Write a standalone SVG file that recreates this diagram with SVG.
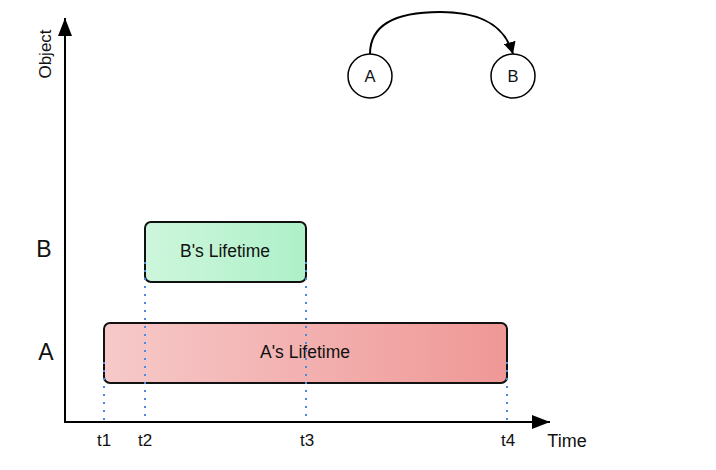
<svg xmlns="http://www.w3.org/2000/svg" width="716" height="470" viewBox="0 0 716 470">
<defs>
<linearGradient id="gA" x1="0" y1="0" x2="1" y2="0"><stop offset="0" stop-color="#f6c9c9"/><stop offset="1" stop-color="#ef9896"/></linearGradient>
<linearGradient id="gB" x1="0" y1="0" x2="1" y2="0"><stop offset="0" stop-color="#cdf6dc"/><stop offset="1" stop-color="#aef0c8"/></linearGradient>
<marker id="arr" viewBox="0 0 12 12" refX="12" refY="6" markerWidth="12" markerHeight="12" markerUnits="userSpaceOnUse" orient="auto"><path d="M0,0 L12,6 L0,12 Z" fill="#000"/></marker>
<marker id="ax" viewBox="0 0 18 14" refX="18" refY="7" markerWidth="18" markerHeight="14" markerUnits="userSpaceOnUse" orient="auto"><path d="M0,0 L18,7 L0,14 Z" fill="#000"/></marker>
<style>
text{font-family:"Liberation Sans",Arial,sans-serif;fill:#111}
.box{stroke:#111;stroke-width:2}
.dot{stroke:#4a8ad8;stroke-width:2;stroke-dasharray:2 6;fill:none}
.axis{stroke:#000;stroke-width:2;fill:none}
.t{font-size:17px;text-anchor:middle}
</style>
</defs>
<g id="connectors">
<line class="axis" x1="65" y1="423" x2="65" y2="18" marker-end="url(#ax)"/>
<line class="axis" x1="64" y1="422" x2="550" y2="422" marker-end="url(#ax)"/>
<path d="M370,54 C370,22 400,12 440,12 C482,12 505,26 513,54" fill="none" stroke="#000" stroke-width="2" marker-end="url(#arr)"/>
</g>
<g id="nodeB">
<rect class="box" x="145" y="222" width="161" height="60" rx="6" fill="url(#gB)"/>
<text x="225" y="257" font-size="17.5" text-anchor="middle">B's Lifetime</text>
</g>
<g id="nodeA">
<rect class="box" x="104" y="323" width="403" height="60" rx="6" fill="url(#gA)"/>
<text x="305" y="358" font-size="17.5" text-anchor="middle">A's Lifetime</text>
</g>
<g id="guides">
<line class="dot" x1="104" y1="362" x2="104" y2="420"/>
<line class="dot" x1="145" y1="262" x2="145" y2="420"/>
<line class="dot" x1="306" y1="262" x2="306" y2="420"/>
<line class="dot" x1="507" y1="362" x2="507" y2="420"/>
</g>
<g id="circleA"><circle cx="370" cy="76" r="22" fill="#fff" stroke="#000" stroke-width="1.5"/><text x="370" y="82" font-size="16.5" text-anchor="middle">A</text></g>
<g id="circleB"><circle cx="513" cy="76" r="22" fill="#fff" stroke="#000" stroke-width="1.5"/><text x="513" y="82" font-size="16.5" text-anchor="middle">B</text></g>
<g id="labels">
<text x="45" y="54" font-size="17" text-anchor="middle" transform="rotate(-90 45 54)" dy="6">Object</text>
<text x="44" y="257" font-size="23" text-anchor="middle">B</text>
<text x="46" y="360" font-size="23" text-anchor="middle">A</text>
<text class="t" x="104" y="446">t1</text>
<text class="t" x="145" y="446">t2</text>
<text class="t" x="307" y="446">t3</text>
<text class="t" x="508" y="446">t4</text>
<text x="567" y="447" font-size="18" text-anchor="middle">Time</text>
</g>
</svg>
